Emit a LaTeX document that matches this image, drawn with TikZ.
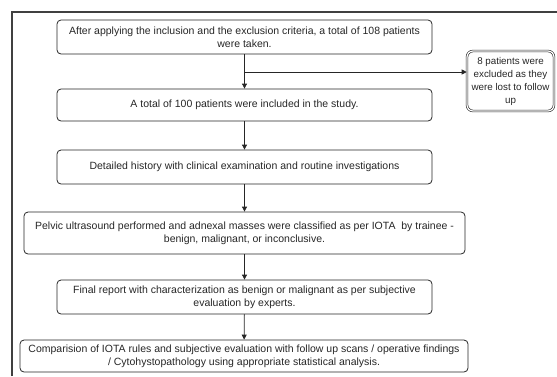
\documentclass[tikz,border=0pt]{standalone}
\usepackage{fontspec}
\setmainfont{Liberation Sans}
\usetikzlibrary{arrows.meta}
\begin{document}
\begin{tikzpicture}[x=1pt,y=-1pt,
  box/.style={draw=black!85, line width=0.8pt, rounded corners=4pt, align=center,
    inner sep=1pt, font=\fontsize{10.5}{13}\selectfont, text=black!85},
  arr/.style={draw=black!85, line width=0.8pt, -{Triangle[width=5pt,length=5pt]}}]
\useasboundingbox (0,0) rectangle (557,376);
\draw[black!75, line width=1.2pt] (12,376) -- (12,12) -- (557,12);
\node[box, minimum width=375pt, minimum height=34pt] (b1) at (244.5,37)
  {After applying the inclusion and the exclusion criteria, a total of 108 patients\\were taken.};
\node[box, minimum width=375pt, minimum height=32pt] (b2) at (244.5,105)
  {A total of 100 patients were included in the study.};
\node[box, minimum width=375pt, minimum height=34pt] (b3) at (244.5,167)
  {Detailed history with clinical examination and routine investigations};
\node[box, minimum width=441pt, minimum height=42pt] (b4) at (244.5,233)
  {Pelvic ultrasound performed and adnexal masses were classified as per IOTA\ \ by trainee -\\benign, malignant, or inconclusive.};
\node[box, minimum width=375pt, minimum height=34pt] (b5) at (244.5,297)
  {Final report with characterization as benign or malignant as per subjective\\evaluation by experts.};
\node[box, minimum width=448pt, minimum height=32pt] (b6) at (244,356)
  {Comparision of IOTA rules and subjective evaluation with follow up scans / operative findings\\/ Cytohystopathology using appropriate statistical analysis.};
\node[box, double, double distance=1.2pt, line width=0.6pt, rounded corners=6pt,
  minimum width=87pt, minimum height=60pt, inner sep=0pt,
  font=\fontsize{9.8}{13}\selectfont] (ex) at (510.5,81)
  {8 patients were\\excluded as they\\were lost to follow\\up};
\draw[arr] (b1) -- (b2);
\coordinate (br) at (244.5,72);
\draw[arr] (br) -- (br -| ex.west);
\draw[arr] (b2) -- (b3);
\draw[arr] (b3) -- (b4);
\draw[arr] (b4) -- (b5);
\draw[arr] (b5) -- (b6);
\end{tikzpicture}
\end{document}
